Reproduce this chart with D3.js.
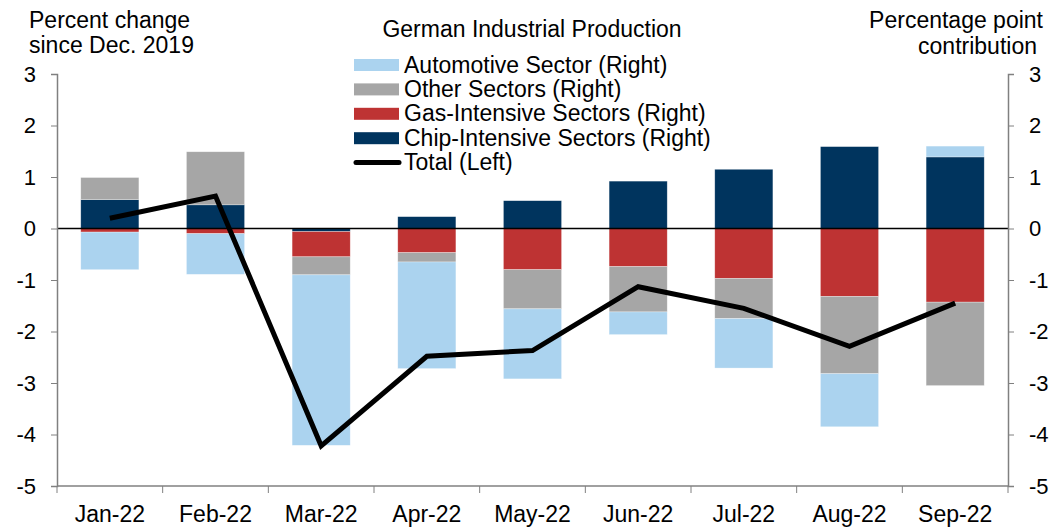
<!DOCTYPE html>
<html>
<head>
<meta charset="utf-8">
<script src="https://cdn.jsdelivr.net/npm/d3@7"></script>
<style>
  body { margin: 0; background: #fff; }
  svg { font-family: "Liberation Sans", Arial, sans-serif; }
  .axis path, .axis line { stroke: #808080; }
  .axis text { font-size: 22px; fill: #000; }
</style>
</head>
<body>
<svg id="chart" width="1062" height="529"></svg>
<script>
const months = ["Jan-22", "Feb-22", "Mar-22", "Apr-22", "May-22", "Jun-22", "Jul-22", "Aug-22", "Sep-22"];
const chip = [0.56, 0.46, -0.06, 0.23, 0.54, 0.92, 1.15, 1.59, 1.39];
const gas = [-0.07, -0.10, -0.49, -0.47, -0.80, -0.74, -0.97, -1.32, -1.43];
const other = [0.43, 1.03, -0.35, -0.18, -0.76, -0.88, -0.78, -1.50, -1.62];
const auto = [-0.73, -0.79, -3.31, -2.07, -1.36, -0.44, -0.96, -1.03, 0.21];
const total = [0.20, 0.63, -4.22, -2.48, -2.37, -1.13, -1.55, -2.29, -1.45];
const yTicks = [3, 2, 1, 0, -1, -2, -3, -4, -5];

const series = [
  { key: "chip", label: "Chip-Intensive Sectors (Right)", color: "#00345E", values: chip },
  { key: "gas", label: "Gas-Intensive Sectors (Right)", color: "#BE3333", values: gas },
  { key: "other", label: "Other Sectors (Right)", color: "#A6A6A6", values: other },
  { key: "auto", label: "Automotive Sector (Right)", color: "#ABD3EF", values: auto }
];
const legendOrder = ["auto", "other", "gas", "chip"];

const svg = d3.select("#chart");
const margin = { left: 57, right: 54, top: 74, bottom: 43 };
const width = 1062, height = 529;
const fs = 23;

const x = d3.scaleBand().domain(months).range([margin.left, width - margin.right]).paddingInner(0.45).paddingOuter(0.225);
const y = d3.scaleLinear().domain([-5, 3]).range([height - margin.bottom, margin.top]);

const rows = months.map((m, i) => {
  const r = { month: m };
  series.forEach((s) => { r[s.key] = s.values[i]; });
  return r;
});

const stacked = d3.stack()
  .keys(series.map((s) => s.key))
  .offset(d3.stackOffsetDiverging)(rows);

const colorOf = new Map(series.map((s) => [s.key, s.color]));

svg.append("g")
  .selectAll("g")
  .data(stacked)
  .join("g")
  .attr("fill", (d) => colorOf.get(d.key))
  .selectAll("rect")
  .data((d) => d)
  .join("rect")
  .attr("x", (d) => x(d.data.month))
  .attr("width", x.bandwidth())
  .attr("y", (d) => y(Math.max(d[0], d[1])))
  .attr("height", (d) => Math.abs(y(d[0]) - y(d[1])))
  .attr("stroke", "#fff")
  .attr("stroke-opacity", 0.5)
  .attr("stroke-width", 0.6);

// zero line
svg.append("line")
  .attr("x1", margin.left).attr("x2", width - margin.right)
  .attr("y1", y(0)).attr("y2", y(0))
  .attr("stroke", "#000").attr("stroke-width", 1.5);

// total line
const line = d3.line()
  .x((d, i) => x(months[i]) + x.bandwidth() / 2)
  .y((d) => y(d));
svg.append("path")
  .datum(total)
  .attr("d", line)
  .attr("fill", "none")
  .attr("stroke", "#000")
  .attr("stroke-width", 5)
  .attr("stroke-linejoin", "miter");

// axes
const leftAxis = svg.append("g").attr("class", "axis")
  .attr("transform", `translate(${margin.left},0)`)
  .call(d3.axisLeft(y).tickValues(yTicks).tickSize(6).tickPadding(15).tickFormat(d3.format("d")));
const rightAxis = svg.append("g").attr("class", "axis")
  .attr("transform", `translate(${width - margin.right},0)`)
  .call(d3.axisRight(y).tickValues(yTicks).tickSize(6).tickPadding(15).tickFormat(d3.format("d")));
[leftAxis, rightAxis].forEach((g) => {
  g.select(".domain").attr("stroke-width", 1.5);
  g.selectAll("text").text((d) => (d < 0 ? "-" + Math.abs(d) : d));
});

const bottom = svg.append("g").attr("class", "axis")
  .attr("transform", `translate(0,${y(-5)})`);
bottom.append("line")
  .attr("x1", margin.left).attr("x2", width - margin.right)
  .attr("stroke", "#808080").attr("stroke-width", 1.5);
const step = x.step();
const tickXs = d3.range(months.length + 1).map((i) => margin.left + i * step);
bottom.selectAll("line.tick")
  .data(tickXs)
  .join("line")
  .attr("class", "tick")
  .attr("x1", (d) => d).attr("x2", (d) => d)
  .attr("y1", 0).attr("y2", 7)
  .attr("stroke", "#808080");
bottom.selectAll("text")
  .data(months)
  .join("text")
  .attr("x", (d) => x(d) + x.bandwidth() / 2)
  .attr("y", 36)
  .attr("text-anchor", "middle")
  .style("font-size", fs + "px")
  .text((d) => d);

// titles
const txt = (t, xx, yy, anchor) => svg.append("text")
  .attr("x", xx).attr("y", yy)
  .attr("text-anchor", anchor)
  .attr("font-size", fs)
  .text(t);
txt("Percent change", 29, 28, "start");
txt("since Dec. 2019", 29, 53, "start");
txt("Percentage point", 1043, 28, "end");
txt("contribution", 1037, 54, "end");
txt("German Industrial Production", 532, 37, "middle");

// legend
const legend = svg.append("g").attr("transform", "translate(354,65)");
legendOrder.forEach((k, i) => {
  const s = series.find((d) => d.key === k);
  const g = legend.append("g").attr("transform", `translate(0,${i * 24.4})`);
  g.append("rect").attr("x", 0).attr("y", -6).attr("width", 45).attr("height", 12).attr("fill", s.color);
  g.append("text").attr("x", 50).attr("y", 7.5).attr("font-size", fs).text(s.label);
});
const lg = legend.append("g").attr("transform", `translate(0,${4 * 24.4})`);
lg.append("line").attr("x1", 2).attr("x2", 45).attr("stroke", "#000").attr("stroke-width", 5).attr("stroke-linecap", "round");
lg.append("text").attr("x", 50).attr("y", 7.5).attr("font-size", fs).text("Total (Left)");
</script>
</body>
</html>
